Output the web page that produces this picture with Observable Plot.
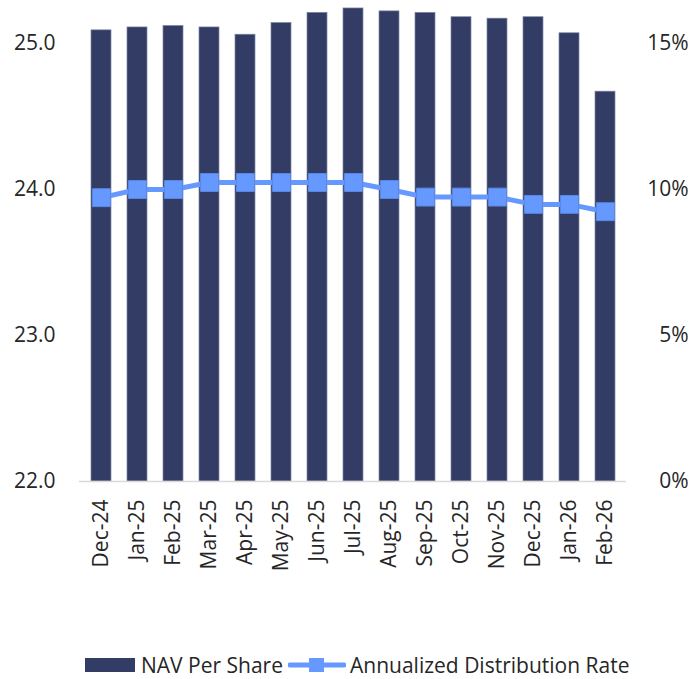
<!DOCTYPE html>
<html>
<head>
<meta charset="utf-8">
<script src="https://cdn.jsdelivr.net/npm/d3@7"></script>
<script src="https://cdn.jsdelivr.net/npm/@observablehq/plot@0.6"></script>
<style>
  body { margin: 0; background: #fff; font-family: "Open Sans", sans-serif; }
  #legend { position: relative; height: 34px; width: 691px; color: #262626; font-size: 21px; line-height: 28px; }
  .item { position: absolute; top: 6px; height: 28px; display: flex; align-items: center; white-space: nowrap; }
</style>
</head>
<body>
<div id="chart"></div>
<div id="legend">
  <div class="item" style="left:85px;">
    <svg width="50" height="14" style="margin-right:6px"><rect width="50" height="14" fill="#323c64"/></svg>
    <span>NAV Per Share</span>
  </div>
  <div class="item" style="left:288px;">
    <svg width="58" height="16" style="margin-right:4px">
      <line x1="2" y1="8" x2="56" y2="8" stroke="#6699ff" stroke-width="5" stroke-linecap="round"/>
      <rect x="21" y="1" width="15" height="14" fill="#6699ff"/>
    </svg>
    <span>Annualized Distribution Rate</span>
  </div>
</div>
<script>
const months = ["Dec-24","Jan-25","Feb-25","Mar-25","Apr-25","May-25","Jun-25","Jul-25","Aug-25","Sep-25","Oct-25","Nov-25","Dec-25","Jan-26","Feb-26"];
const navPerShare = [25.09, 25.11, 25.12, 25.11, 25.06, 25.14, 25.21, 25.24, 25.22, 25.21, 25.18, 25.17, 25.18, 25.07, 24.67];
const distributionRate = [9.72, 10.0, 10.0, 10.24, 10.24, 10.24, 10.24, 10.24, 10.0, 9.74, 9.74, 9.74, 9.49, 9.49, 9.24];
const leftTicks = [22, 23, 24, 25];
const rightTickLabels = ["0%", "5%", "10%", "15%"];

const navMin = 22;
const pctPerUnit = 5; // 1 NAV unit on the left axis = 5 percentage points on the right axis
const data = months.map((m, i) => ({month: m, nav: navPerShare[i], rate: distributionRate[i]}));

const textColor = "#262626";
const chart = Plot.plot({
  width: 691,
  height: 645,
  marginLeft: 79,
  marginRight: 65,
  marginTop: 43,
  marginBottom: 164,
  style: {fontFamily: "Open Sans, sans-serif", fontSize: "21px", color: textColor, background: "#fff", overflow: "visible"},
  x: {domain: months, paddingInner: 0.45, paddingOuter: 0.225},
  y: {domain: [22, 25]},
  marks: [
    Plot.barY(data, {x: "month", y1: navMin, y2: "nav", fill: "#323c64", stroke: "#7e85a3", strokeWidth: 0.7}),
    Plot.ruleY([navMin], {stroke: "#d9d9d9", strokeWidth: 1.5}),
    Plot.line(data, {x: "month", y: d => navMin + d.rate / pctPerUnit, stroke: "#6699ff", strokeWidth: 5}),
    Plot.dot(data, {x: "month", y: d => navMin + d.rate / pctPerUnit, symbol: "square", r: 10.1, fill: "#6699ff", stroke: "#5a89e6", strokeWidth: 1}),
    Plot.axisY({anchor: "left", ticks: leftTicks, tickFormat: d3.format(".1f"), tickSize: 0, tickPadding: 24, fill: textColor, label: null}),
    Plot.axisY({anchor: "right", ticks: leftTicks, tickFormat: d => rightTickLabels[leftTicks.indexOf(d)], tickSize: 0, tickPadding: 62, textAnchor: "end", fill: textColor, label: null}),
    Plot.axisX({anchor: "bottom", tickSize: 0, tickPadding: 18, tickRotate: -90, fill: textColor, label: null})
  ]
});
document.getElementById("chart").appendChild(chart);
</script>
</body>
</html>
